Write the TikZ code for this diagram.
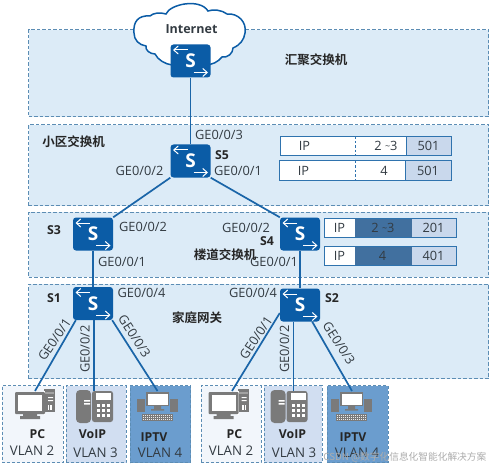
\documentclass[tikz,border=0pt]{standalone}
\usepackage{fontspec}
\setmainfont{Open Sans}
\newfontfamily\cjkbold{Noto Sans CJK SC}[BoldFont={Noto Sans CJK SC Bold}]
\usetikzlibrary{calc,arrows.meta}
\definecolor{swblue}{HTML}{0B5CA6}
\definecolor{panelfill}{HTML}{DCEBF7}
\definecolor{panelline}{HTML}{5C8DB4}
\definecolor{linkblue}{HTML}{1A65A8}
\definecolor{cellblue}{HTML}{C9D8EC}
\definecolor{celldark}{HTML}{41709F}
\definecolor{celledge}{HTML}{2F73AE}
\definecolor{boxa}{HTML}{F2F6FB}
\definecolor{boxb}{HTML}{D1DEF1}
\definecolor{boxc}{HTML}{6B9DCE}
\definecolor{icongrey}{HTML}{7A7A7A}
\definecolor{txt}{HTML}{333B42}
\tikzset{
  panel/.style={draw=panelline,fill=panelfill,line width=1pt,dash pattern=on 3.5pt off 2pt,minimum width=#1,anchor=north west,inner sep=0pt},
  devbox/.style={draw=panelline,line width=1pt,dash pattern=on 3pt off 2pt,anchor=north west,inner sep=0pt,minimum height=77pt},
  switchbox/.style={fill=swblue,rounded corners=3pt,minimum width=40pt,minimum height=33pt,inner sep=0pt,text=white,font=\bfseries\fontsize{19}{19}\selectfont},
  link/.style={draw=linkblue,line width=1.7pt},
  swarrow/.style={white,line width=1pt,-{Straight Barb[length=4.5pt,width=8pt]}},
  lab/.style={inner sep=0pt,text=txt,font=\fontsize{12.8}{12.8}\selectfont},
  tag/.style={inner sep=0pt,text=black!85,font=\bfseries\fontsize{12.3}{12.3}\selectfont},
  zone/.style={inner sep=0pt,text=black!85,font=\cjkbold\bfseries\fontsize{12.5}{13}\selectfont},
  cell/.style={inner sep=0pt,text=txt,font=\fontsize{12.8}{12.8}\selectfont},
  rowedge/.style={draw=celledge,line width=1pt},
  vlan/.style={inner sep=0pt,text=txt,font=\fontsize{13.3}{13.3}\selectfont},
}
\newcommand{\switchnode}[3]{%
  \node[switchbox] (#1) at (#2,#3) {S};
  \draw[swarrow] ($(#1.center)+(-3,-11)$) -- ($(#1.center)+(-17.5,-11)$);
  \draw[swarrow] ($(#1.center)+(3,11.5)$) -- ($(#1.center)+(17.5,11.5)$);
}
\newcommand{\pcicon}[1]{\begin{scope}[shift={(#1,389)}]
  \fill[icongrey] (29,0) rectangle (40,23);
  \fill[icongrey!70] (30,3) rectangle (39,5);
  \fill[icongrey] (8,25) rectangle (22,27) (5,27) rectangle (25,30);
  \fill[white] (28.5,2) rectangle (30,26);
  \fill[icongrey,rounded corners=1pt] (0,3) rectangle (30,25);
  \fill[white] (3,6) rectangle (27,22);
  \fill[white] (33,8) rectangle (38,9) (33,11) rectangle (38,12);
  \foreach \k in {33,34.7,36.4} \fill[white] (\k,16) rectangle +(0.8,5);
\end{scope}}
\newcommand{\phoneicon}[1]{\begin{scope}[shift={(#1,390)}]
  \fill[icongrey,rounded corners=4pt] (0,0) rectangle (15,33);
  \fill[icongrey,rounded corners=2.5pt] (16,1) rectangle (37,32);
  \fill[white] (8,10) rectangle (14,11.5) (8,13) rectangle (14,14.5);
  \fill[white] (20,3) rectangle (35,10);
  \foreach \a in {21,26,31} \foreach \b in {14,19,24} \fill[white] (\a,\b) rectangle +(3.4,3.4);
\end{scope}}
\newcommand{\iptvicon}[1]{\begin{scope}[shift={(#1,391)}]
  \fill[icongrey] (0,8) rectangle (8,21);
  \fill[icongrey] (33,8) rectangle (41,21);
  \fill[icongrey] (17,15) rectangle (24,18) (14,18) rectangle (27,19.5);
  \fill[icongrey] (9,1) rectangle (32,15);
  \fill[white] (10.5,3) rectangle (30.5,13.5);
  \fill[icongrey] (5,23) rectangle (36,29.5);
  \foreach \a in {6,8,...,34} \foreach \b in {24,26,28} \fill[white!85!icongrey] (\a,\b) rectangle +(1.2,1);
\end{scope}}
\begin{document}
\begin{tikzpicture}[x=1pt,y=-1pt]
\useasboundingbox (0,0) rectangle (490,468);
\fill[white] (0,0) rectangle (490,468);
% panels
\node[panel=460pt,minimum height=87pt] (p1) at (28,29.5) {};
\node[panel=460pt,minimum height=80.5pt] (p2) at (28,124.5) {};
\node[panel=460pt,minimum height=65pt] (p3) at (28,211.5) {};
\node[panel=460pt,minimum height=94.5pt] (p4) at (28,283.5) {};
% device boxes
\node[devbox,fill=boxa,minimum width=61pt] (d1) at (1.5,385) {};
\node[devbox,fill=boxb,minimum width=60pt] (d2) at (65.5,385) {};
\node[devbox,fill=boxc,minimum width=60.5pt] (d3) at (129.5,385) {};
\node[devbox,fill=boxa,minimum width=60pt] (d4) at (200.5,385) {};
\node[devbox,fill=boxb,minimum width=58pt] (d5) at (263.5,385) {};
\node[devbox,fill=boxc,minimum width=61pt] (d6) at (326.5,385) {};
% cloud
\draw[draw=swblue,fill=white,line width=1.5pt] (134,33)
  .. controls (133,22) and (138,15) .. (150,16)
  .. controls (153,13) and (160,12) .. (166,14)
  .. controls (170,4) and (200,-2) .. (208,11)
  .. controls (213,9) and (222,10) .. (227,14)
  .. controls (238,13) and (247,22) .. (245,33)
  .. controls (244,40) and (240,45) .. (233,48)
  .. controls (233,53) and (228,58) .. (222,57)
  .. controls (218,62) and (212,65) .. (205,65)
  -- (172,65)
  .. controls (165,64) and (158,60) .. (155,54)
  .. controls (150,54) and (145,50) .. (146,46)
  .. controls (139,45) and (134,40) .. (134,33) -- cycle;
\node[inner sep=0pt,text=txt,font=\bfseries\fontsize{12.5}{12.5}\selectfont] (inet) at (191.5,29.5) {Internet};
% switches
\switchnode{s0}{190.5}{61}
\switchnode{s5}{190.5}{161}
\switchnode{s3}{93}{234}
\switchnode{s4}{300}{234}
\switchnode{s1}{93}{303.5}
\switchnode{s2}{300}{305}
% free ends
\coordinate (e1) at (35,391);
\coordinate (e2) at (94,391);
\coordinate (e3) at (157.5,391);
\coordinate (e4) at (232,391);
\coordinate (e5) at (293.5,391);
\coordinate (e6) at (352,391);
% connectors
\draw[link] (s0.south) -- (s5.north);
\draw[link] (s5.south west) -- (s3.north east);
\draw[link] (s5.south east) -- (s4.north west);
\draw[link] (s3.south) -- (s1.north);
\draw[link] (s4.south) -- (s2.north);
\draw[link] (s1.south west) ++(3,0) -- (e1);
\draw[link] (s1.south) ++(1,0) -- (e2);
\draw[link] (s1.south east) ++(-1,0) -- (e3);
\draw[link] (s2.west) ++(0,8) -- (e4);
\draw[link] (s2.south) ++(-6.5,0) -- (e5);
\draw[link] (s2.south east) ++(-8,0) -- (e6);
% icons
\pcicon{15}\phoneicon{76}\iptvicon{137}\pcicon{208.5}\phoneicon{270.5}\iptvicon{331}
% port labels
\node[lab] (l1) at (219,134.5) {GE0/0/3};
\node[lab] (l2) at (139.5,171) {GE0/0/2};
\node[lab] (l3) at (238,171) {GE0/0/1};
\node[lab] (l4) at (143,227) {GE0/0/2};
\node[lab] (l5) at (246,228) {GE0/0/2};
\node[lab] (l6) at (122,262) {GE0/0/1};
\node[lab] (l7) at (274,262) {GE0/0/1};
\node[lab] (l8) at (141.5,292.5) {GE0/0/4};
\node[lab] (l9) at (253,292.5) {GE0/0/4};
\node[lab,rotate=56] (l10) at (54.5,339.5) {GE0/0/1};
\node[lab,rotate=90] (l11) at (85,349) {GE0/0/2};
\node[lab,rotate=-57] (l12) at (134.5,336.5) {GE0/0/3};
\node[lab,rotate=56] (l13) at (256,338) {GE0/0/1};
\node[lab,rotate=90] (l14) at (284.5,349) {GE0/0/2};
\node[lab,rotate=-57] (l15) at (339,343) {GE0/0/3};
% switch names
\node[tag] (t5) at (222,155.5) {S5};
\node[tag] (t3) at (54,230) {S3};
\node[tag] (t4) at (267,241.5) {S4};
\node[tag] (t1) at (54,298) {S1};
\node[tag] (t2) at (332,298) {S2};
% zone names
\node[zone] (z1) at (316,60) {汇聚交换机};
\node[zone] (z2) at (73.5,141.5) {小区交换机};
\node[zone] (z3) at (225,255) {楼道交换机};
\node[zone] (z4) at (197,318) {家庭网关};
% upper tables
\fill[white] (280,136.5) rectangle (406,155.5);
\fill[cellblue] (406,136.5) rectangle (451,155.5);
\draw[rowedge] (280,136.5) rectangle (451,155.5);
\draw[rowedge] (406,136.5) -- (406,155.5);
\draw[celledge,line width=1pt,dash pattern=on 2.5pt off 2pt] (355.5,136.5) -- (355.5,155.5);
\node[cell] (a1) at (304.5,146) {IP};
\node[cell] (a2) at (386,146) {2 \raisebox{1.5pt}{\fontsize{9}{9}\selectfont\char`~}3};
\node[cell] (a3) at (428.5,146) {501};
\fill[white] (279.5,161) rectangle (405.5,180);
\fill[cellblue] (405.5,161) rectangle (451,180);
\draw[rowedge] (279.5,161) rectangle (451,180);
\draw[rowedge] (405.5,161) -- (405.5,180);
\draw[celledge,line width=1pt,dash pattern=on 2.5pt off 2pt] (355,161) -- (355,180);
\node[cell] (b1) at (303.5,171) {IP};
\node[cell] (b2) at (384,171) {4};
\node[cell] (b3) at (428,171) {501};
% lower tables
\fill[white] (324.5,218.5) rectangle (354.5,237.5);
\fill[celldark] (354.5,218.5) rectangle (412,237.5);
\fill[cellblue] (412,218.5) rectangle (456,237.5);
\draw[rowedge] (324.5,218.5) rectangle (456,237.5);
\node[cell] (c1) at (339.5,228) {IP};
\node[cell] (c2) at (383,228) {2 \raisebox{1.5pt}{\fontsize{9}{9}\selectfont\char`~}3};
\node[cell] (c3) at (433.5,228) {201};
\fill[white] (324.5,246.5) rectangle (354.5,265.5);
\fill[celldark] (354.5,246.5) rectangle (412,265.5);
\fill[cellblue] (412,246.5) rectangle (456,265.5);
\draw[rowedge] (324.5,246.5) rectangle (456,265.5);
\node[cell] (f1) at (339.5,256) {IP};
\node[cell] (f2) at (382.5,256) {4};
\node[cell] (f3) at (433.5,256) {401};
% device labels
\node[tag] (g1) at (37.5,434) {PC};
\node[vlan] (g2) at (32,451) {VLAN 2};
\node[tag] (g3) at (92.5,434) {VoIP};
\node[vlan] (g4) at (95.5,452.5) {VLAN 3};
\node[tag] (g5) at (154,437) {IPTV};
\node[vlan] (g6) at (160,452.5) {VLAN 4};
\node[tag] (g7) at (234.5,434) {PC};
\node[vlan] (g8) at (231,451) {VLAN 2};
\node[tag] (g9) at (292.5,434) {VoIP};
\node[vlan] (g10) at (294,452.5) {VLAN 3};
\node[tag] (g11) at (353,437) {IPTV};
\node[vlan] (g12) at (357,452.5) {VLAN 4};
% watermark
\node[inner sep=0pt,text=white!68!black,anchor=east,font=\cjkbold\fontsize{9.7}{11}\selectfont] (wm) at (486.5,457) {CSDN @数字化信息化智能化解决方案};
\end{tikzpicture}
\end{document}
